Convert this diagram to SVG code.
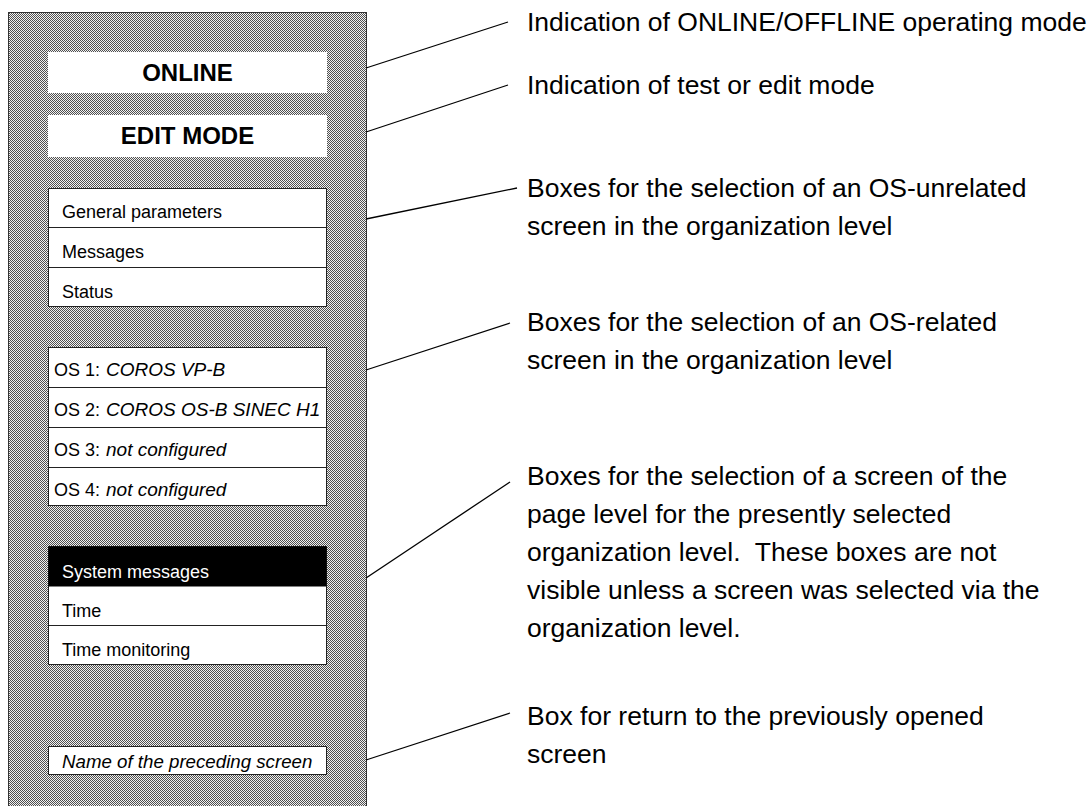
<svg xmlns="http://www.w3.org/2000/svg" width="1091" height="806" viewBox="0 0 1091 806">
<defs>
<pattern id="dither" x="0" y="0" width="2" height="2" patternUnits="userSpaceOnUse">
<rect width="2" height="2" fill="#f2f2f2"/>
<rect x="0" y="0" width="1" height="1" fill="#505050"/>
<rect x="1" y="1" width="1" height="1" fill="#505050"/>
</pattern>
</defs>
<style>
.box{fill:#fff;stroke:#222;stroke-width:1}
.plain{fill:#fff;stroke:none}
.div{stroke:#222;stroke-width:1}
.t{font-family:"Liberation Sans",Arial,sans-serif;font-size:18px;fill:#000}
.i{font-style:italic}
.oi{font-size:19px}
.b{font-family:"Liberation Sans",Arial,sans-serif;font-size:24px;font-weight:bold;fill:#000}
.r{font-family:"Liberation Sans",Arial,sans-serif;font-size:26.5px;fill:#000}
.lead{stroke:#000;stroke-width:1.3;fill:none}
</style>
<rect width="1091" height="806" fill="#fff"/>
<g id="panel">
<rect x="8.5" y="12.5" width="358" height="800" fill="url(#dither)" stroke="#333" stroke-width="1"/>
</g>
<g id="online">
<rect class="plain" x="48" y="52" width="279" height="41"/>
<text class="b" x="187.5" y="81" text-anchor="middle">ONLINE</text>
</g>
<g id="editmode">
<rect class="plain" x="48" y="115" width="279" height="42"/>
<text class="b" x="187.5" y="144" text-anchor="middle">EDIT MODE</text>
</g>
<g id="org-unrelated">
<rect class="box" x="48.5" y="188.5" width="278" height="118"/>
<line class="div" x1="48.5" y1="227.5" x2="326.5" y2="227.5"/>
<line class="div" x1="48.5" y1="267.5" x2="326.5" y2="267.5"/>
<text class="t" x="62" y="218">General parameters</text>
<text class="t" x="62" y="258">Messages</text>
<text class="t" x="62" y="298">Status</text>
</g>
<g id="org-related">
<rect class="box" x="48.5" y="347.5" width="278" height="158"/>
<line class="div" x1="48.5" y1="387.5" x2="326.5" y2="387.5"/>
<line class="div" x1="48.5" y1="427.5" x2="326.5" y2="427.5"/>
<line class="div" x1="48.5" y1="467.5" x2="326.5" y2="467.5"/>
<text class="t" x="54" y="376">OS 1:</text><text class="t i oi" x="106" y="376">COROS VP-B</text>
<text class="t" x="54" y="416">OS 2:</text><text class="t i oi" x="106" y="416">COROS OS-B SINEC H1</text>
<text class="t" x="54" y="456">OS 3:</text><text class="t i oi" x="106" y="456">not configured</text>
<text class="t" x="54" y="496">OS 4:</text><text class="t i oi" x="106" y="496">not configured</text>
</g>
<g id="page-level">
<rect class="box" x="48.5" y="546.5" width="278" height="118"/>
<rect x="48.5" y="546.5" width="278" height="40" fill="#000"/>
<line class="div" x1="48.5" y1="625.5" x2="326.5" y2="625.5"/>
<text class="t" x="62" y="578" style="fill:#fff">System messages</text>
<text class="t" x="62" y="617">Time</text>
<text class="t" x="62" y="656">Time monitoring</text>
</g>
<g id="preceding">
<rect class="box" x="48.5" y="746.5" width="278" height="28"/>
<text class="t i" x="62" y="768" style="font-size:18.7px">Name of the preceding screen</text>
</g>
<g id="connectors">
<line class="lead" x1="366" y1="68" x2="508" y2="22"/>
<line class="lead" x1="366" y1="132" x2="508" y2="85"/>
<line class="lead" x1="366" y1="219" x2="517" y2="188"/>
<line class="lead" x1="366" y1="370" x2="510" y2="323"/>
<line class="lead" x1="366" y1="578" x2="510" y2="482"/>
<line class="lead" x1="366" y1="760" x2="510" y2="713"/>
</g>
<g id="labels">
<text class="r" x="527" y="31">Indication of ONLINE/OFFLINE operating mode</text>
<text class="r" x="527" y="94">Indication of test or edit mode</text>
<text class="r" x="527" y="197">Boxes for the selection of an OS-unrelated</text>
<text class="r" x="527" y="235">screen in the organization level</text>
<text class="r" x="527" y="331">Boxes for the selection of an OS-related</text>
<text class="r" x="527" y="369">screen in the organization level</text>
<text class="r" x="527" y="485">Boxes for the selection of a screen of the</text>
<text class="r" x="527" y="523">page level for the presently selected</text>
<text class="r" x="527" y="561">organization level.&#160; These boxes are not</text>
<text class="r" x="527" y="599">visible unless a screen was selected via the</text>
<text class="r" x="527" y="637">organization level.</text>
<text class="r" x="527" y="725">Box for return to the previously opened</text>
<text class="r" x="527" y="763">screen</text>
</g>
</svg>
